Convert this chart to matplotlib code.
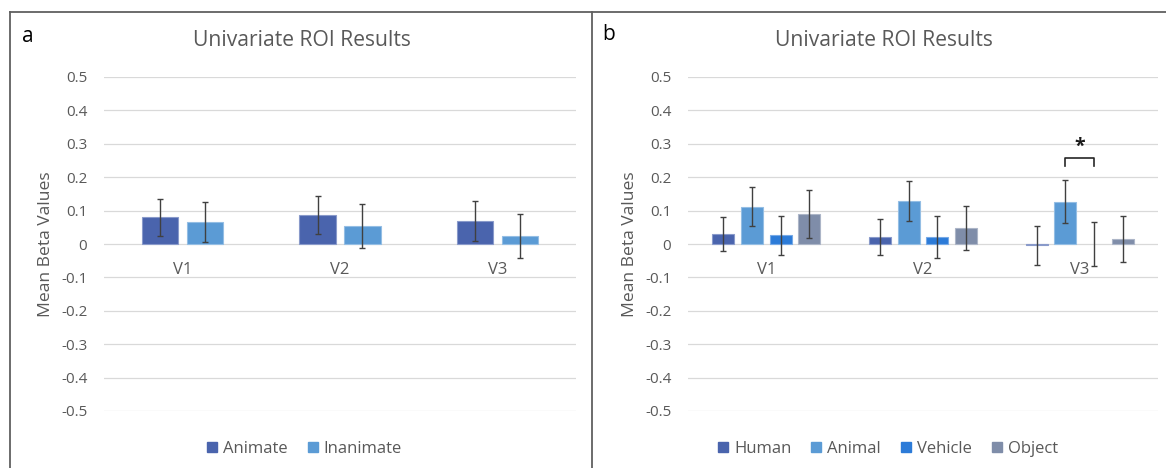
import matplotlib
matplotlib.use("Agg")
import matplotlib.pyplot as plt
from matplotlib.lines import Line2D
from matplotlib.patches import Patch
from matplotlib.colors import to_rgb
import numpy as np

plt.rcParams['font.family'] = ['Open Sans', 'DejaVu Sans']

# ---- data -------------------------------------------------------------
regions = ["V1", "V2", "V3"]
yticks = [0.5, 0.4, 0.3, 0.2, 0.1, 0, -0.1, -0.2, -0.3, -0.4, -0.5]
ytick_labels = ["0.5", "0.4", "0.3", "0.2", "0.1", "0", "-0.1", "-0.2", "-0.3", "-0.4", "-0.5"]

animate = [0.080, 0.087, 0.069]
animate_err = [0.056, 0.058, 0.061]
inanimate = [0.066, 0.055, 0.025]
inanimate_err = [0.061, 0.066, 0.066]

human = [0.029, 0.022, -0.004]
human_err = [0.051, 0.054, 0.058]
animal = [0.112, 0.129, 0.127]
animal_err = [0.059, 0.061, 0.065]
vehicle = [0.026, 0.022, 0.0]
vehicle_err = [0.058, 0.063, 0.065]
obj = [0.091, 0.047, 0.015]
obj_err = [0.072, 0.066, 0.070]

title = "Univariate ROI Results"
ylabel = "Mean Beta Values"

C_DARK = "#4A64AD"
C_LIGHT = "#5B9BD5"
C_VEH = "#2C7BD8"
C_OBJ = "#7F8DA9"
TXT = "#595959"
GRID = "#D9D9D9"
ERR = "#404040"

W, H = 1166, 468
fig = plt.figure(figsize=(W / 100, H / 100), dpi=100)


def px_axes(x0, x1, ytop, ybot):
    return fig.add_axes([x0 / W, 1 - ybot / H, (x1 - x0) / W, (ybot - ytop) / H])


def tint(c, amt=0.35):
    r, g, b = to_rgb(c)
    return (r + (1 - r) * amt, g + (1 - g) * amt, b + (1 - b) * amt)


def style(ax):
    ax.set_ylim(-0.5, 0.5)
    ax.set_xlim(-0.5, 2.5)
    for s in ax.spines.values():
        s.set_visible(False)
    ax.spines['bottom'].set_position(('data', 0))
    ax.set_yticks(yticks)
    ax.set_yticklabels(ytick_labels)
    ax.set_xticks(range(len(regions)))
    ax.set_xticklabels(regions)
    ax.tick_params(axis='y', length=0, pad=12, labelcolor=TXT, labelsize=11)
    ax.tick_params(axis='x', length=0, pad=13, labelcolor=TXT, labelsize=12)
    ax.grid(axis='y', color=GRID, linewidth=0.9)
    ax.set_axisbelow(True)
    ax.set_ylabel(ylabel, color=TXT, fontsize=12.6, labelpad=5)


def draw_bars(ax, series, errs, colors, width, step):
    x = np.arange(len(regions))
    n = len(series)
    for i, (vals, e, c) in enumerate(zip(series, errs, colors)):
        off = (i - (n - 1) / 2) * step
        bars = ax.bar(x + off, vals, width, color=c, edgecolor=tint(c), linewidth=0.8, zorder=2)
        for rect, v in zip(bars, vals):
            if v == 0:
                rect.set_linewidth(0)
        ax.errorbar(x + off, vals, yerr=e, fmt='none', ecolor=ERR, elinewidth=1.0,
                    capsize=2.4, capthick=1.0, zorder=3)


legend_kw = dict(loc='center', bbox_transform=fig.transFigure, frameon=False, fontsize=12,
                 labelcolor=TXT, handlelength=0.6, handleheight=0.6, handletextpad=0.35,
                 columnspacing=1.2)

# ---- panel a ----------------------------------------------------------
ax1 = px_axes(104, 576, 77, 411)
style(ax1)
draw_bars(ax1, [animate, inanimate], [animate_err, inanimate_err],
          [C_DARK, C_LIGHT], 0.229, 0.286)
ax1.legend(handles=[Patch(color=C_DARK, label="Animate"), Patch(color=C_LIGHT, label="Inanimate")],
           bbox_to_anchor=(304.5 / W, 1 - 449 / H), ncol=2, **legend_kw)

# ---- panel b ----------------------------------------------------------
ax2 = px_axes(688, 1158, 77, 411)
style(ax2)
step_b = 0.183
draw_bars(ax2, [human, animal, vehicle, obj], [human_err, animal_err, vehicle_err, obj_err],
          [C_DARK, C_LIGHT, C_VEH, C_OBJ], 0.14, step_b)
ax2.legend(handles=[Patch(color=C_DARK, label="Human"), Patch(color=C_LIGHT, label="Animal"),
                    Patch(color=C_VEH, label="Vehicle"), Patch(color=C_OBJ, label="Object")],
           bbox_to_anchor=(888 / W, 1 - 449 / H), ncol=4, **legend_kw)

# significance bracket between Animal and Vehicle in V3
xa = 2 - 0.5 * step_b
xv = 2 + 0.5 * step_b
ax2.plot([xa, xa, xv, xv], [0.235, 0.258, 0.258, 0.235], color="#262626", lw=1.2,
         clip_on=False, zorder=4)
ax2.text((xa + xv) / 2, 0.29, "*", ha='center', va='center', fontsize=14,
         fontweight='bold', color="#1a1a1a")

# ---- titles, panel letters, frame ------------------------------------
for cx in (302, 884):
    fig.text(cx / W, 1 - 41 / H, title, ha='center', va='center', color=TXT, fontsize=15.2)
fig.text(22 / W, 1 - 37 / H, "a", ha='left', va='center', color="black", fontsize=15)
fig.text(602 / W, 1 - 35 / H, "b", ha='left', va='center', color="black", fontsize=15)

frame_kw = dict(color="#606060", lw=1.3, transform=fig.transFigure)
fig.add_artist(Line2D([10 / W, 1], [1 - 12 / H, 1 - 12 / H], **frame_kw))
fig.add_artist(Line2D([10 / W, 10 / W], [0, 1 - 12 / H], **frame_kw))
fig.add_artist(Line2D([592 / W, 592 / W], [0, 1 - 12 / H], **frame_kw))

fig.savefig("out.png", dpi=100)
